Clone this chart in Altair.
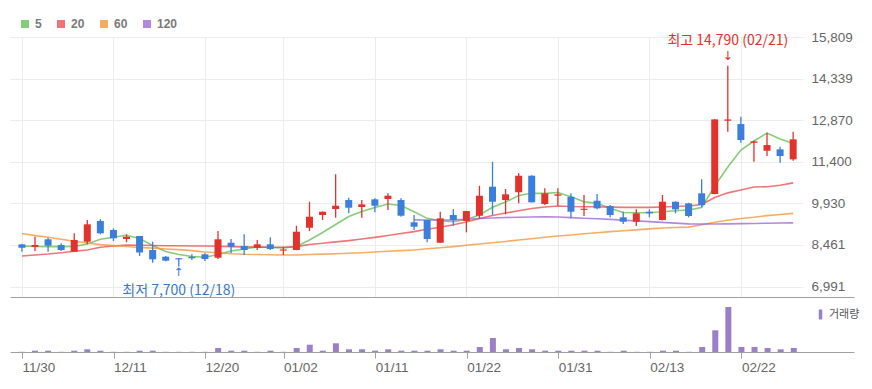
import json
import altair as alt
import pandas as pd

# ---------------- data ----------------
dates = ["11/30", "12/01", "12/04", "12/05", "12/06", "12/07", "12/08", "12/11", "12/12", "12/13",
         "12/14", "12/15", "12/18", "12/19", "12/20", "12/21", "12/22", "12/26", "12/27", "12/28",
         "01/02", "01/03", "01/04", "01/05", "01/08", "01/09", "01/10", "01/11", "01/12", "01/15",
         "01/16", "01/17", "01/18", "01/19", "01/22", "01/23", "01/24", "01/25", "01/26", "01/29",
         "01/30", "01/31", "02/01", "02/02", "02/05", "02/06", "02/07", "02/08", "02/13", "02/14",
         "02/15", "02/16", "02/19", "02/20", "02/21", "02/22", "02/23", "02/26", "02/27", "02/28"]

opens = [8480, 8390, 8659, 8457, 8220, 8574, 9305, 8987, 8669, 8775,
         8281, 8044, 7990, 8040, 8129, 8008, 8538, 8422, 8362, 8482,
         8260, 8281, 9068, 9517, 9729, 10047, 9800, 10072, 10082, 10047,
         9259, 9340, 8538, 9517, 9305, 9492, 10517, 10047, 10319, 10906,
         9906, 10199, 10164, 9700, 10022, 9835, 9436, 9280, 9634, 9340,
         9987, 9930, 10284, 10259, 12850, 12732, 12070, 11789, 11838, 11485]
highs = [8490, 8750, 8715, 8517, 8871, 9340, 9375, 9047, 8835, 8780,
         8574, 8070, 7995, 8129, 8164, 8952, 8669, 8835, 8634, 8729,
         8397, 9139, 9987, 9640, 10955, 10128, 10047, 10107, 10284, 10107,
         9517, 9345, 9634, 9729, 9665, 10552, 11400, 10436, 10990, 10920,
         10460, 10460, 10284, 10224, 10259, 9870, 9634, 9718, 9718, 10224,
         9995, 9951, 10778, 12900, 14790, 12990, 12150, 12425, 11930, 12460]
lows = [8220, 8245, 8220, 8245, 8220, 8482, 8835, 8598, 8553, 8069,
        7832, 7880, 7700, 7927, 7892, 7963, 8164, 8104, 8281, 8281,
        8104, 8270, 8952, 9340, 9422, 9577, 9422, 9612, 9694, 9457,
        8987, 8553, 8530, 9139, 8906, 9400, 9517, 9542, 9930, 9960,
        9870, 9846, 9400, 9482, 9718, 9436, 9199, 9128, 9436, 9330,
        9577, 9436, 9789, 10250, 12460, 12073, 11400, 11602, 11365, 11435]
closes = [8360, 8457, 8432, 8281, 8634, 9189, 8871, 8694, 8750, 8192,
          7952, 7903, 7950, 7990, 7963, 8659, 8397, 8281, 8482, 8316,
          8300, 8927, 9457, 9634, 9846, 9775, 9895, 9846, 10199, 9492,
          9104, 8669, 9400, 9340, 9658, 10199, 9987, 10248, 10906, 9966,
          10284, 10248, 9634, 9740, 9754, 9517, 9280, 9577, 9577, 9987,
          9718, 9482, 9870, 12898, 12895, 12167, 12120, 11990, 11602, 12192]

volumes = [20000, 130000, 130000, 20000, 130000, 270000, 130000, 20000, 20000, 130000,
           130000, 20000, 20000, 20000, 20000, 400000, 130000, 130000, 20000, 130000,
           20000, 400000, 730000, 130000, 870000, 270000, 270000, 130000, 270000, 130000,
           130000, 130000, 270000, 130000, 130000, 500000, 1400000, 270000, 400000, 270000,
           130000, 130000, 130000, 130000, 130000, 20000, 130000, 20000, 20000, 130000,
           130000, 20000, 500000, 2170000, 4500000, 500000, 500000, 400000, 270000, 400000]

ma5 = [8420, 8405, 8400, 8400, 8405, 8493, 8660, 8730, 8800, 8687,
       8440, 8228, 8122, 8051, 8023, 8122, 8245, 8316, 8387, 8369,
       8351, 8404, 8634, 8899, 9181, 9464, 9640, 9782, 9906, 9853,
       9634, 9400, 9316, 9280, 9358, 9517, 9789, 9976, 10206, 10284,
       10284, 10312, 10164, 9987, 9930, 9754, 9605, 9598, 9598, 9634,
       9669, 9694, 9782, 10541, 11216, 11813, 12132, 12414, 12202, 12043]
ma20 = [8069, 8104, 8139, 8185, 8235, 8281, 8376, 8422, 8457, 8447,
        8440, 8433, 8429, 8422, 8422, 8412, 8401, 8390, 8383, 8376,
        8376, 8401, 8475, 8521, 8567, 8613, 8669, 8726, 8793, 8864,
        8930, 9012, 9086, 9174, 9273, 9393, 9500, 9588, 9669, 9750,
        9800, 9835, 9817, 9810, 9807, 9796, 9789, 9789, 9789, 9800,
        9817, 9835, 9888, 10135, 10301, 10400, 10506, 10517, 10570, 10654]
ma60 = [8866, 8789, 8729, 8659, 8588, 8528, 8471, 8436, 8404, 8369,
        8348, 8319, 8295, 8259, 8213, 8182, 8150, 8129, 8121, 8114,
        8107, 8107, 8121, 8136, 8150, 8164, 8185, 8210, 8238, 8259,
        8281, 8323, 8358, 8401, 8450, 8493, 8538, 8584, 8634, 8680,
        8729, 8775, 8810, 8856, 8892, 8930, 8962, 8994, 9026, 9058,
        9075, 9090, 9171, 9263, 9330, 9397, 9439, 9496, 9538, 9577]
ma120 = [None] * 30 + [
        9347, 9344, 9344, 9347, 9368, 9393, 9411, 9429, 9439, 9446,
        9453, 9446, 9425, 9404, 9386, 9362, 9333, 9309, 9284, 9256,
        9231, 9203, 9199, 9199, 9206, 9213, 9220, 9227, 9234, 9241]

ma_names = ["5", "20", "60", "120"]
ma_colors = ["#5cbd4a", "#e8484a", "#f3922c", "#9b5fd6"]

y_ticks = [6991, 8461, 9930, 11400, 12870, 14339, 15809]
x_tick_idx = [0, 7, 14, 20, 27, 34, 41, 48, 55]

up_color = "#e2322c"
down_color = "#3b7edb"
vol_color = "#9b80c8"
vol_name = "거래량"

# ---------------- tables ----------------
idx = list(range(len(dates)))
df = pd.DataFrame({"i": idx, "date": dates, "open": opens, "high": highs,
                   "low": lows, "close": closes, "volume": volumes})
df["col"] = [up_color if c >= o else down_color for o, c in zip(opens, closes)]
df["kind"] = vol_name

ma_color_of = dict(zip(ma_names, ma_colors))
ma_rows = []
for name, series in zip(ma_names, [ma5, ma20, ma60, ma120]):
    for i, v in zip(idx, series):
        if v is not None:
            ma_rows.append({"i": i, "ma": name, "value": v, "col": ma_color_of[name]})
ma_df = pd.DataFrame(ma_rows)

imax = max(idx, key=lambda k: highs[k])
imin = min(idx, key=lambda k: lows[k])
max_df = pd.DataFrame([{"i": imax, "value": highs[imax],
                        "label": f"최고 {highs[imax]:,} ({dates[imax]})", "arrow": "↓"}])
min_df = pd.DataFrame([{"i": imin, "value": lows[imin],
                        "label": f"최저 {lows[imin]:,} ({dates[imin]})", "arrow": "↑"}])

# ---------------- encodings ----------------
TOP_W, TOP_H = 793, 260
VOL_W, VOL_H = 844, 55
PX_PER = TOP_W / (59.37 + 0.53)

x_top_scale = alt.Scale(domain=[-0.53, 59.37], nice=False, zero=False)
x_vol_scale = alt.Scale(domain=[-0.53, -0.53 + VOL_W / PX_PER], nice=False, zero=False)
y_scale = alt.Scale(domain=[6620, 15809], nice=False, zero=False)

x_top = alt.X("i:Q", scale=x_top_scale, title=None,
              axis=alt.Axis(values=x_tick_idx, grid=True, gridColor="#ececec",
                            labels=False, ticks=False, domain=False))
y_price_axis = alt.Axis(orient="right", values=y_ticks, format=",d", grid=True,
                        gridColor="#ececec", ticks=False, domain=False,
                        labelPadding=8, labelColor="#666666", labelFont="Liberation Sans",
                        labelFontSize=13.5, labelOverlap=False)


def yq(field):
    return alt.Y(f"{field}:Q", scale=y_scale, axis=y_price_axis, title=None)


base = alt.Chart(df)

lines = alt.Chart(ma_df).mark_line(strokeWidth=1.6, opacity=0.75).encode(
    x=x_top,
    y=yq("value"),
    color=alt.Color("col:N", scale=None),
    detail="ma:N",
)

# legend-only layer (draws nothing: its rows are filtered out)
legend_layer = alt.Chart(ma_df).transform_filter("datum.i < 0").mark_square(filled=True).encode(
    x=x_top,
    y=yq("value"),
    color=alt.Color("ma:N", scale=alt.Scale(domain=ma_names, range=ma_colors),
                    legend=alt.Legend(orient="none", legendX=9, legendY=-19,
                                      direction="horizontal", title=None,
                                      symbolType="square", symbolSize=64,
                                      symbolStrokeWidth=0, symbolOpacity=1,
                                      labelFont="Liberation Sans", labelFontSize=12,
                                      labelFontWeight="bold", labelColor="#7a7a7a",
                                      columnPadding=13, labelOffset=4, padding=0)),
)

wicks = base.mark_rule(strokeWidth=1.3).encode(
    x=x_top, y=yq("low"), y2="high:Q",
    color=alt.Color("col:N", scale=None),
)

bodies = base.mark_bar(size=7).encode(
    x=x_top, y=yq("open"), y2="close:Q",
    color=alt.Color("col:N", scale=None),
)

txt_font = "Noto Sans CJK KR"
max_label = alt.Chart(max_df).mark_text(dy=-25, fontSize=14, font=txt_font,
                                        color="#e0302a").encode(
    x=x_top, y=yq("value"), text="label:N")
max_arrow = alt.Chart(max_df).mark_text(dy=-9.5, fontSize=12.5, font="DejaVu Sans",
                                        color="#e0302a").encode(
    x=x_top, y=yq("value"), text="arrow:N")
min_label = alt.Chart(min_df).mark_text(dy=25, fontSize=14, font=txt_font,
                                        color="#3a78c8").encode(
    x=x_top, y=yq("value"), text="label:N")
min_arrow = alt.Chart(min_df).mark_text(dy=6.5, fontSize=11.5, font="DejaVu Sans",
                                        color="#3a78c8").encode(
    x=x_top, y=yq("value"), text="arrow:N")

top = alt.layer(lines, legend_layer, wicks, bodies,
                max_label, max_arrow, min_label, min_arrow).properties(
    width=TOP_W, height=TOP_H)

# ---------------- volume panel ----------------
label_expr = json.dumps(dates, ensure_ascii=False) + "[datum.value]"
vol_y = alt.Y("volume:Q", scale=alt.Scale(domain=[0, 5500000], nice=False), axis=None, title=None)

vol_bars = base.mark_bar(size=6).encode(
    x=alt.X("i:Q", scale=x_vol_scale, title=None,
            axis=alt.Axis(values=x_tick_idx, labelExpr=label_expr, grid=False,
                          tickSize=6, tickColor="#a0a0a0", domainColor="#a0a0a0",
                          labelAlign="left", labelFlush=False, labelPadding=2,
                          labelColor="#666666", labelFont="Liberation Sans",
                          labelFontSize=13.5, labelOverlap=False)),
    y=vol_y,
    color=alt.Color("kind:N", scale=alt.Scale(domain=[vol_name], range=[vol_color]),
                    legend=alt.Legend(orient="none", legendX=805, legendY=12, title=None,
                                      symbolType="M-0.35,-1L0.35,-1L0.35,1L-0.35,1Z",
                                      symbolSize=100, symbolStrokeWidth=0,
                                      labelFont=txt_font, labelFontSize=11,
                                      labelColor="#555555", labelOffset=3, padding=0)),
)

vol_top_line = base.mark_bar(size=6, opacity=0).encode(
    x=alt.X("i:Q", scale=x_vol_scale, title=None,
            axis=alt.Axis(orient="top", labels=False, ticks=False, grid=False,
                          domain=True, domainColor="#a0a0a0")),
    y=vol_y,
)

volume = alt.layer(vol_bars, vol_top_line).resolve_axis(x="independent").properties(
    width=VOL_W, height=VOL_H)

chart = alt.vconcat(top, volume, spacing=0, bounds="flush").resolve_scale(
    x="independent", y="independent", color="independent"
).properties(
    padding={"left": 2, "top": 10, "right": 0, "bottom": 0},
    background="white",
).configure_view(stroke=None)

chart.save("out.html", embed_options={"renderer": "svg", "actions": False})
